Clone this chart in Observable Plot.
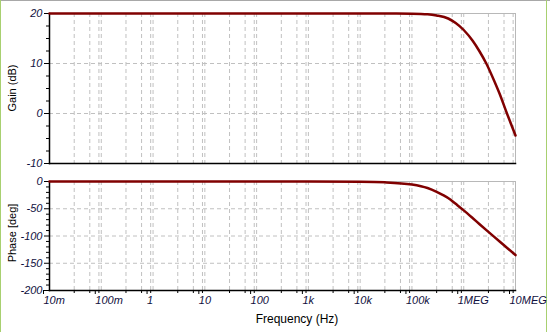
<!DOCTYPE html>
<html>
<head>
<meta charset="utf-8">
<script src="https://cdn.jsdelivr.net/npm/d3@7"></script>
<script src="https://cdn.jsdelivr.net/npm/@observablehq/plot@0.6"></script>
<style>
  html, body { margin: 0; padding: 0; background: #fff; }
  #wrap { position: relative; width: 550px; height: 332px; overflow: hidden; font-family: "Liberation Sans", Arial, sans-serif; }
  #wrap svg { display: block; position: absolute; left: 0; }
  .frame-top { position: absolute; left: 0; top: 0; width: 550px; height: 1px; background: #a8a8a8; }
  .frame-left { position: absolute; left: 0; top: 0; width: 1px; height: 332px; background: #a8d070; }
  .frame-right { position: absolute; left: 546px; top: 0; width: 1px; height: 332px; background: #a8d070; }
  .ytitle { position: absolute; font-size: 11px; color: #000; white-space: nowrap; transform: translate(-50%, -50%) rotate(-90deg); }
  .xtitle { position: absolute; font-size: 12px; color: #000; white-space: nowrap; transform: translate(-50%, -50%); }
</style>
</head>
<body>
<div id="wrap">
  <div class="frame-top"></div>
  <div class="frame-left"></div>
  <div class="frame-right"></div>
</div>
<script>
// ---- data ----
const freqTicks = [0.01, 0.1, 1, 10, 100, 1e3, 1e4, 1e5, 1e6, 1e7];
const freqTickLabels = ["10m", "100m", "1", "10", "100", "1k", "10k", "100k", "1MEG", "10MEG"];
const gridMultipliers = [3, 6, 9];

const gainTicks = [20, 10, 0, -10];
const gainMinorTicks = [17.5, 15, 12.5, 7.5, 5, 2.5, -2.5, -5, -7.5];
const phaseTicks = [0, -50, -100, -150, -200];
const phaseMinorTicks = [-10, -20, -30, -40, -60, -70, -80, -90, -110, -120, -130, -140, -160, -170, -180, -190];

const gainFreq = [0.01, 1e3, 1e4, 5e4, 1e5, 2e5, 3e5, 5e5, 7e5, 1e6, 1.5e6, 2e6, 2.73e6, 4e6, 5e6, 6.84e6, 1e7];
const gainDb   = [20, 20, 20, 20, 19.97, 19.85, 19.6, 19.0, 18.1, 16.7, 14.5, 12.5, 10, 6.2, 3.8, 0, -4.4];

const phaseFreq = [0.01, 1e3, 1e4, 3e4, 1e5, 2e5, 3e5, 4e5, 5.5e5, 7e5, 1e6, 1.5e6, 2e6, 3e6, 5e6, 7e6, 1e7];
const phaseDeg  = [0, 0, -0.5, -1.5, -5.5, -12, -19, -25, -33, -41, -53, -67.5, -78, -92.5, -110.5, -122.5, -135];

const gainData = gainFreq.map((f, i) => ({f, v: gainDb[i]}));
const phaseData = phaseFreq.map((f, i) => ({f, v: phaseDeg[i]}));
const gridX = freqTicks.slice(0, -1).flatMap(d => gridMultipliers.map(m => d * m)).concat(freqTicks.slice(1));
const labelOf = new Map(freqTicks.map((t, i) => [t, freqTickLabels[i]]));

const W = 550;
const xScale = {type: "log", domain: [freqTicks[0], freqTicks[freqTicks.length - 1]]};
const LINE = "#800000";
const GRID = "#c0c0c0";
const TEXT = "#101040";
const fontStyle = {fontFamily: "'Liberation Sans', Arial, sans-serif", fontSize: "11px", background: "transparent"};

function panel({height, marginTop, marginBottom, domain, ticks, minor, data, showX}) {
  const marks = [
    Plot.ruleX(gridX, {stroke: GRID, strokeDasharray: "4,3", strokeWidth: 1}),
    Plot.ruleY(ticks.filter(t => t !== domain[0] && t !== domain[1]), {stroke: GRID, strokeDasharray: "4,3", strokeWidth: 1}),
    Plot.frame({stroke: "#b8b8b8"}),
    Plot.frame({anchor: "left", stroke: "#000", strokeWidth: 1.5}),
    Plot.frame({anchor: "bottom", stroke: "#000", strokeWidth: 1.5}),
    Plot.axisY({ticks, tickSize: 5, tickPadding: 2, fontStyle: "italic", fill: TEXT, stroke: "#000", label: null, tickFormat: d => d}),
    Plot.axisY({ticks: minor, tickSize: 3, text: null, stroke: "#000", label: null}),
    Plot.line(data, {x: "f", y: "v", stroke: LINE, strokeWidth: 2.5, curve: "monotone-x"})
  ];
  if (showX) {
    marks.push(Plot.axisX({ticks: freqTicks, tickSize: 4, tickPadding: 2, fontStyle: "italic", fill: TEXT, stroke: "#000",
      tickFormat: d => labelOf.get(d), textAnchor: "start", dx: -6, label: null}));
    marks.push(Plot.axisX({ticks: gridX.filter(t => !freqTicks.includes(t)), tickSize: 3, text: null, stroke: "#000", label: null}));
  } else {
    marks.push(Plot.axisX({ticks: [], label: null}));
  }
  return Plot.plot({
    width: W, height, marginTop, marginBottom, marginLeft: 49, marginRight: 35,
    style: fontStyle,
    x: xScale,
    y: {domain},
    marks
  });
}

const gainPlot = panel({height: 170, marginTop: 13, marginBottom: 7, domain: [-10, 20], ticks: gainTicks, minor: gainMinorTicks, data: gainData, showX: false});
const phasePlot = panel({height: 162, marginTop: 11, marginBottom: 42, domain: [-200, 0], ticks: phaseTicks, minor: phaseMinorTicks, data: phaseData, showX: true});

const wrap = document.getElementById("wrap");
gainPlot.style.top = "0px";
phasePlot.style.top = "170px";
wrap.appendChild(gainPlot);
wrap.appendChild(phasePlot);

function addTitle(text, cls, x, y) {
  const d = document.createElement("div");
  d.className = cls;
  d.textContent = text;
  d.style.left = x + "px";
  d.style.top = y + "px";
  wrap.appendChild(d);
}
addTitle("Gain (dB)", "ytitle", 12, 88);
addTitle("Phase [deg]", "ytitle", 12, 233);
addTitle("Frequency (Hz)", "xtitle", 297, 319);
</script>
</body>
</html>
